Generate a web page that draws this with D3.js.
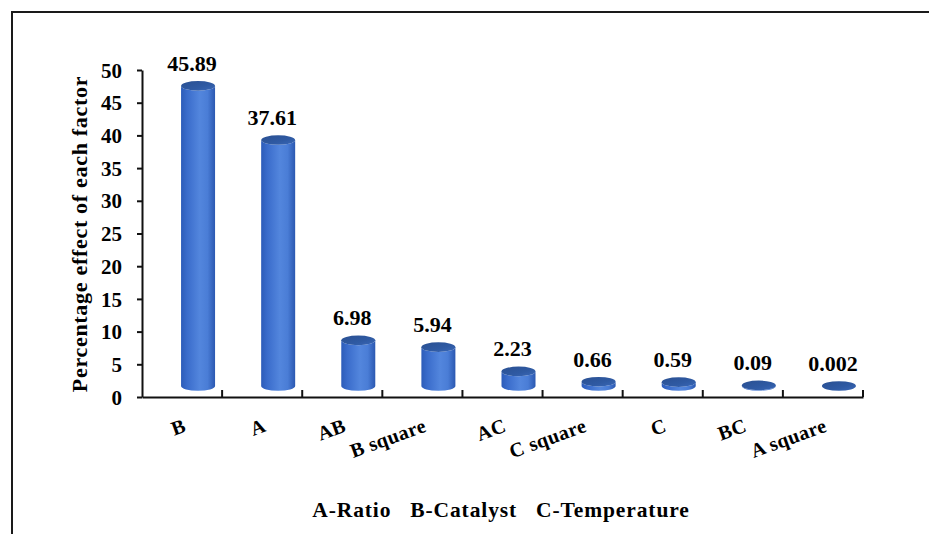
<!DOCTYPE html>
<html>
<head>
<meta charset="utf-8">
<script src="https://cdn.jsdelivr.net/npm/d3@7/dist/d3.min.js"></script>
<style>
  html, body { margin: 0; padding: 0; background: #fff; }
  svg { display: block; }
  text { font-family: "Liberation Serif", "DejaVu Serif", serif; font-weight: bold; fill: #000; }
</style>
</head>
<body>
<svg id="chart" width="929" height="534"></svg>
<script>
// Factor contributions (%)
const factors = ["B", "A", "AB", "B square", "AC", "C square", "C", "BC", "A square"];
const effects = [45.89, 37.61, 6.98, 5.94, 2.23, 0.66, 0.59, 0.09, 0.002];
const effectLabels = ["45.89", "37.61", "6.98", "5.94", "2.23", "0.66", "0.59", "0.09", "0.002"];
const yTicks = [0, 5, 10, 15, 20, 25, 30, 35, 40, 45, 50];
const yTitle = "Percentage effect of each factor";
const footnote = "A-Ratio\u00a0\u00a0\u00a0B-Catalyst\u00a0\u00a0\u00a0C-Temperature";

const svg = d3.select("#chart");

// outer frame (runs off the right and bottom edges)
svg.append("rect")
  .attr("x", 12).attr("y", 12)
  .attr("width", 940).attr("height", 540)
  .attr("fill", "none").attr("stroke", "#1a1a1a").attr("stroke-width", 2);

const plot = { left: 142, right: 863, top: 70, bottom: 397 };

const x = d3.scaleBand().domain(factors).range([plot.left, plot.right]).paddingInner(0).paddingOuter(0);
const y = d3.scaleLinear().domain([0, 50]).range([plot.bottom, plot.top]);

// gradients for the cylinders
const defs = svg.append("defs");
const body = defs.append("linearGradient").attr("id", "cylBody").attr("x1", "0").attr("x2", "1").attr("y1", "0").attr("y2", "0");
[["0%", "#2c5cb9"], ["18%", "#3a6ccb"], ["55%", "#5386dd"], ["78%", "#4a7dd6"], ["100%", "#2b58b1"]]
  .forEach(([o, c]) => body.append("stop").attr("offset", o).attr("stop-color", c));
const cap = defs.append("linearGradient").attr("id", "cylTop").attr("x1", "0").attr("x2", "1").attr("y1", "0").attr("y2", "1");
[["0%", "#2a5092"], ["60%", "#2f5aa3"], ["100%", "#3a68b8"]]
  .forEach(([o, c]) => cap.append("stop").attr("offset", o).attr("stop-color", c));

// 3D depth shift of the cylinders
const depthX = 16, depthY = 11;
const rx = 17, ry = 4.8;

const bars = svg.append("g").selectAll("g.bar")
  .data(factors.map((f, i) => ({ f, v: effects[i], label: effectLabels[i] })))
  .join("g").attr("class", "bar");

bars.append("path")
  .attr("fill", "url(#cylBody)")
  .attr("d", d => {
    const cx = x(d.f) + x.bandwidth() / 2 + depthX;
    const top = y(d.v) - depthY;
    const bot = y(0) - depthY;
    return `M${cx - rx},${top} L${cx - rx},${bot} A${rx},${ry} 0 0 0 ${cx + rx},${bot} L${cx + rx},${top} A${rx},${ry} 0 0 1 ${cx - rx},${top} Z`;
  });

bars.append("ellipse")
  .attr("cx", d => x(d.f) + x.bandwidth() / 2 + depthX)
  .attr("cy", d => y(d.v) - depthY)
  .attr("rx", rx).attr("ry", ry)
  .attr("fill", "url(#cylTop)");

// value labels
bars.append("text")
  .attr("x", d => x(d.f) + x.bandwidth() / 2 + 10)
  .attr("y", d => y(d.v) - 26)
  .attr("text-anchor", "middle")
  .attr("font-size", 22)
  .text(d => d.label);

// y axis
const yAxis = svg.append("g")
  .attr("transform", `translate(${plot.left},0)`)
  .call(d3.axisLeft(y).tickValues(yTicks).tickSize(5).tickSizeOuter(0).tickPadding(15));
yAxis.selectAll("path, line").attr("stroke", "#111").attr("stroke-width", 2);
yAxis.selectAll("text")
  .attr("font-family", "Liberation Serif, serif").attr("font-weight", "bold")
  .attr("font-size", 21).attr("fill", "#000").attr("dy", "0.34em");

// x axis: baseline plus upward ticks at category boundaries
const xAxis = svg.append("g").attr("transform", `translate(0,${plot.bottom})`);
xAxis.call(d3.axisBottom(x).tickSize(0).tickSizeOuter(0).tickFormat(""));
xAxis.select("path.domain").attr("stroke", "#111").attr("stroke-width", 2);
const bounds = factors.slice(1).map(f => x(f)).concat([x.range()[1]]);
xAxis.selectAll("line.bound").data(bounds).join("line").attr("class", "bound")
  .attr("x1", d => d).attr("x2", d => d).attr("y1", 0).attr("y2", -7)
  .attr("stroke", "#111").attr("stroke-width", 2);

// rotated category labels
svg.append("g").selectAll("text.cat").data(factors).join("text").attr("class", "cat")
  .attr("transform", d => `translate(${x(d) + x.bandwidth() / 2 + 5},431) rotate(-20)`)
  .attr("text-anchor", "end")
  .attr("font-size", 20)
  .attr("letter-spacing", 0.4)
  .text(d => d);

// y axis title
svg.append("text")
  .attr("transform", `translate(87,234) rotate(-90)`)
  .attr("text-anchor", "middle")
  .attr("font-size", 22)
  .attr("letter-spacing", 0.7)
  .text(yTitle);

// factor legend under the chart
svg.append("text")
  .attr("x", 501).attr("y", 517)
  .attr("text-anchor", "middle")
  .attr("font-size", 21.5)
  .attr("letter-spacing", 0.9)
  .text(footnote);
</script>
</body>
</html>
